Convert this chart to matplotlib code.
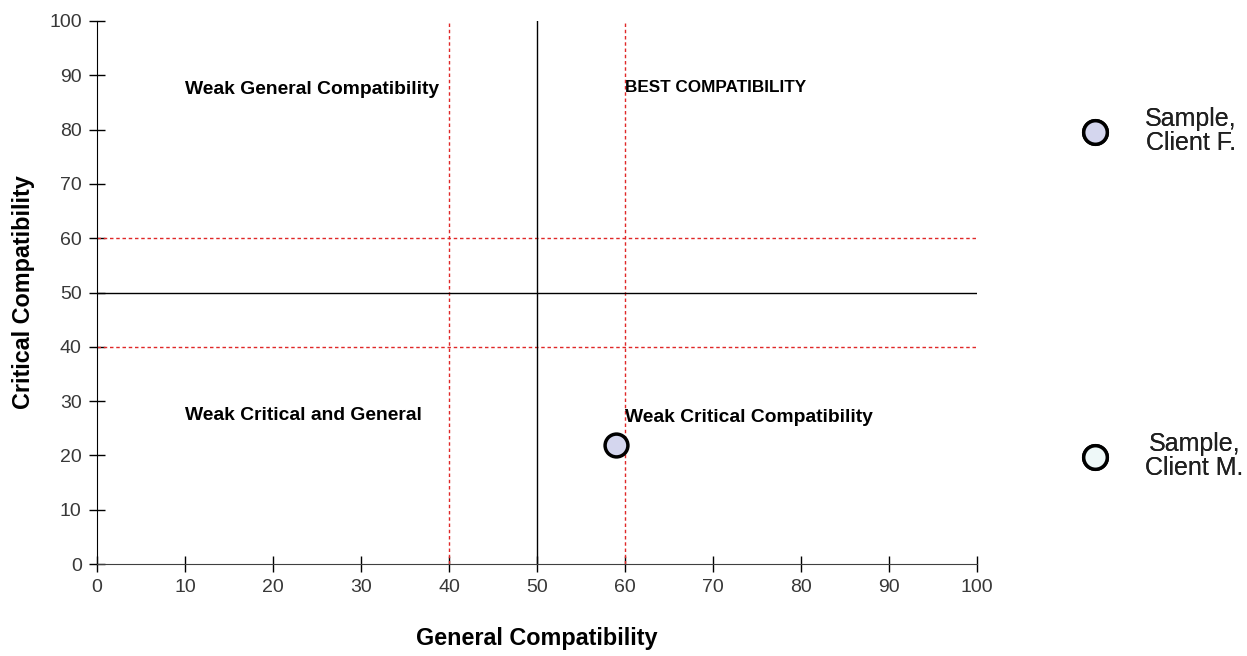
import matplotlib.pyplot as plt
from matplotlib.lines import Line2D

plt.rcParams['font.family'] = ['Liberation Sans', 'DejaVu Sans']

# data
general = [59]
critical = [22]
series_names = ['Sample,\nClient F.', 'Sample,\nClient M.']
series_colors = ['#d4d6ee', '#eef8f8']
ticks = [0, 10, 20, 30, 40, 50, 60, 70, 80, 90, 100]
red_lines = [40, 60]
mid_line = 50
zone_labels = ['Weak General Compatibility', 'BEST COMPATIBILITY',
               'Weak Critical and General', 'Weak Critical Compatibility']
zone_x = [10, 60, 10, 60]
zone_y = [87.3, 87.8, 27.3, 27.0]
zone_size = [13.9, 12.3, 13.9, 13.9]

fig = plt.figure(figsize=(12.47, 6.56), dpi=100)
ax = fig.add_axes([0.0778, 0.1402, 0.7057, 0.8278])

for v in red_lines:
    ax.axvline(v, color='#e02828', linestyle=(0, (2.5, 2)), linewidth=1)
    ax.axhline(v, color='#e02828', linestyle=(0, (2.5, 2)), linewidth=1)
ax.axvline(mid_line, color='black', linewidth=1)
ax.axhline(mid_line, color='black', linewidth=1)

ax.scatter(general, critical, s=270, c=series_colors[0], edgecolors='black',
           linewidths=2.5, zorder=5)

for t, x, y, s in zip(zone_labels, zone_x, zone_y, zone_size):
    ax.text(x, y, t, fontsize=s, fontweight='bold', va='center', ha='left')

ax.set_xlim(0, 100)
ax.set_ylim(0, 100)
ax.set_xticks(ticks)
ax.set_yticks(ticks)
ax.tick_params(direction='inout', length=12, width=1, labelsize=14,
               labelcolor='#383838', pad=5)
for s in ['top', 'right']:
    ax.spines[s].set_visible(False)
ax.spines['bottom'].set_color('#404040')

ax.set_xlabel('General Compatibility', fontsize=16.8, fontweight='bold', labelpad=22)
ax.set_ylabel('Critical Compatibility', fontsize=16.8, fontweight='bold', labelpad=10)

for name, col, ypos in zip(series_names, series_colors, [0.80, 0.305]):
    h = Line2D([], [], marker='o', linestyle='none', markersize=17,
               markerfacecolor=col, markeredgecolor='black', markeredgewidth=2.5)
    lg = fig.legend(handles=[h], labels=[name], loc='center left',
                    bbox_to_anchor=(0.850, ypos), frameon=False, fontsize=18,
                    handlelength=2, handletextpad=1.0, borderaxespad=0)
    for txt in lg.get_texts():
        txt.set_multialignment('center')
        txt.set_linespacing(1.0)
        txt.set_color('#202020')
    fig.add_artist(lg)

fig.savefig('out.png', dpi=100)
